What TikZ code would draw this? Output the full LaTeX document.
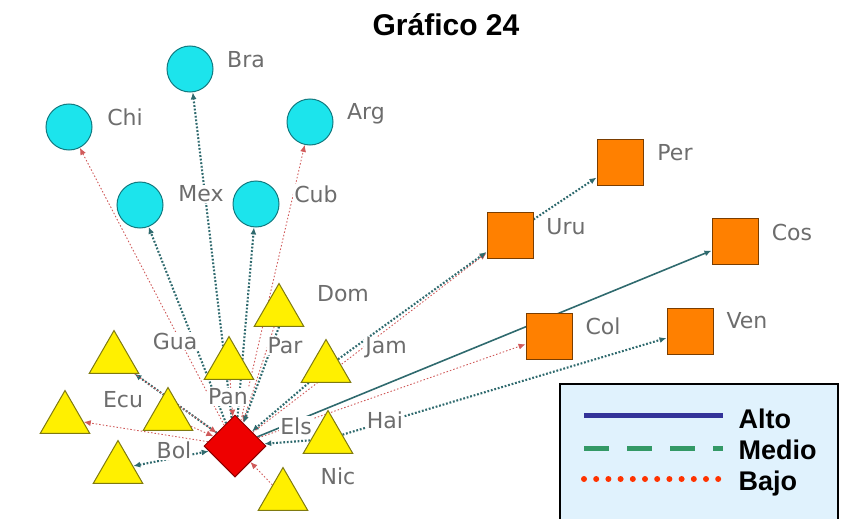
\documentclass[tikz,border=0pt]{standalone}
\usepackage{fontspec}
\setmainfont{Liberation Sans}
\newfontfamily\tagfont{DejaVu Sans}
\usetikzlibrary{shapes.geometric,arrows.meta}

\definecolor{ccyan}{HTML}{1CE4EC}
\definecolor{cblue}{HTML}{127A80}
\definecolor{cyellow}{HTML}{FFF000}
\definecolor{colive}{HTML}{7F7A10}
\definecolor{cred}{HTML}{EE0000}
\definecolor{cdark}{HTML}{8B0000}
\definecolor{corange}{HTML}{FF8000}
\definecolor{cbrown}{HTML}{7A3D00}
\definecolor{cgray}{HTML}{6D6D6D}
\definecolor{cteal}{HTML}{2F6A6E}
\definecolor{cpink}{HTML}{D05A5A}
\definecolor{clegend}{HTML}{E0F2FD}
\definecolor{cnavy}{HTML}{333399}
\definecolor{cgreen}{HTML}{339966}
\definecolor{cdot}{HTML}{FF3300}

\pgfdeclarelayer{edges}
\pgfdeclarelayer{tags}
\pgfsetlayers{edges,tags,main}

\begin{document}
\begin{tikzpicture}[x=1pt,y=-1pt,
    country/.style={line width=1pt,inner sep=0pt},
    bubble/.style={country,circle,draw=cblue,fill=ccyan,minimum size=46pt},
    tri/.style={country,regular polygon,regular polygon sides=3,draw=colive,fill=cyellow,minimum size=57pt},
    box/.style={country,rectangle,draw=cbrown,fill=corange,minimum size=46pt},
    hub/.style={country,diamond,draw=cdark,fill=cred,minimum width=62pt,minimum height=62pt},
    tag/.style={font=\tagfont\fontsize{22}{24}\selectfont,text=cgray,fill=white,inner sep=1pt},
    key/.style={font=\bfseries\fontsize{27}{30}\selectfont,anchor=base west},
    medio/.style={draw=cteal,line width=2.1pt,dash pattern=on 1.8pt off 1.8pt,-{Latex[length=7pt,width=6pt]}},
    bajo/.style={draw=cpink,line width=0.9pt,dash pattern=on 1.5pt off 2pt,-{Latex[length=7pt,width=6pt]}},
    alto/.style={draw=cteal,line width=1.6pt,-{Latex[length=7pt,width=6pt]}}]
  \useasboundingbox (0,0) rectangle (843,519);

  \node[font=\bfseries\fontsize{30}{32}\selectfont,anchor=base] (title) at (446,36) {Gráfico 24};

  % circles
  \node[bubble] (Bra) at (190,69) {};
  \node[bubble] (Chi) at (69,127) {};
  \node[bubble] (Arg) at (310,122) {};
  \node[bubble] (Mex) at (140,205) {};
  \node[bubble] (Cub) at (256,204) {};

  % triangles
  \node[tri] (Dom) at (279,312) {};
  \node[tri] (Gua) at (114,359) {};
  \node[tri] (Par) at (229,365) {};
  \node[tri] (Jam) at (326,368) {};
  \node[tri] (Ecu) at (65,419) {};
  \node[tri] (Pan) at (168,416) {};
  \node[tri] (Hai) at (328,439) {};
  \node[tri] (Bol) at (118,469) {};
  \node[tri] (Nic) at (283,496) {};

  \node[hub] (Els) at (235,446) {};

  % squares
  \node[box] (Per) at (620,162) {};
  \node[box] (Uru) at (510,235) {};
  \node[box] (Cos) at (735,241) {};
  \node[box] (Col) at (549,336) {};
  \node[box] (Ven) at (690,331) {};

  \begin{pgfonlayer}{tags}
    \node[tag] (Bra-t) at (246,60) {Bra};
    \node[tag] (Chi-t) at (125,117) {Chi};
    \node[tag] (Arg-t) at (366,114) {Arg};
    \node[tag] (Mex-t) at (201,194) {Mex};
    \node[tag] (Cub-t) at (316,194) {Cub};
    \node[tag] (Dom-t) at (343,294) {Dom};
    \node[tag] (Gua-t) at (175,341) {Gua};
    \node[tag] (Par-t) at (285,346) {Par};
    \node[tag] (Jam-t) at (386,348) {Jam};
    \node[tag] (Ecu-t) at (123,400) {Ecu};
    \node[tag] (Pan-t) at (228,397) {Pan};
    \node[tag] (Els-t) at (296,426) {Els};
    \node[tag] (Hai-t) at (385,420) {Hai};
    \node[tag] (Bol-t) at (174,450) {Bol};
    \node[tag] (Nic-t) at (338,476) {Nic};
    \node[tag] (Per-t) at (675,153) {Per};
    \node[tag] (Uru-t) at (566,227) {Uru};
    \node[tag] (Cos-t) at (792,232) {Cos};
    \node[tag] (Col-t) at (603,326) {Col};
    \node[tag] (Ven-t) at (747,321) {Ven};
  \end{pgfonlayer}

  \begin{pgfonlayer}{edges}
    \path
      (Els) edge[bajo] (Chi)
      (Els) edge[medio] (Bra)
      (Els) edge[bajo] (Arg)
      (Els) edge[medio] (Mex)
      (Els) edge[medio] (Cub)
      (Els) edge[medio] (Gua)
      (Gua) edge[bajo] (Els)
      (Els) edge[bajo] (Ecu)
      (Bol) edge[medio,{Latex[length=7pt,width=6pt]}-{Latex[length=7pt,width=6pt]}] (Els)
      (Pan) edge[bajo] (Els)
      (Par) edge[bajo] (Els)
      (Dom) edge[bajo] (Els)
      (Dom.south) edge[medio] (Els)
      (Jam) edge[medio] (Els)
      (Hai) edge[medio] (Els)
      (Nic) edge[bajo] (Els)
      (Els) edge[bajo] (Uru)
      (Jam) edge[medio] (Uru)
      (Uru) edge[medio] (Per)
      (Els) edge[alto] (Cos)
      (Els) edge[bajo] (Col)
      (Hai) edge[medio] (Ven);
  \end{pgfonlayer}

  % legend
  \draw[line width=1.5pt,fill=clegend] (560,384) rectangle (838,530);
  \draw[cnavy,line width=5pt] (584,415) -- (723,415);
  \draw[cgreen,line width=5pt,dash pattern=on 25pt off 18pt] (584,448) -- (723,448);
  \draw[cdot,line width=6pt,line cap=round,dash pattern=on 0pt off 12.2pt] (584,479) -- (720,479);
  \node[key] (alto) at (735,428) {Alto};
  \node[key] (medio) at (735,459) {Medio};
  \node[key] (bajo) at (735,490) {Bajo};
\end{tikzpicture}
\end{document}
